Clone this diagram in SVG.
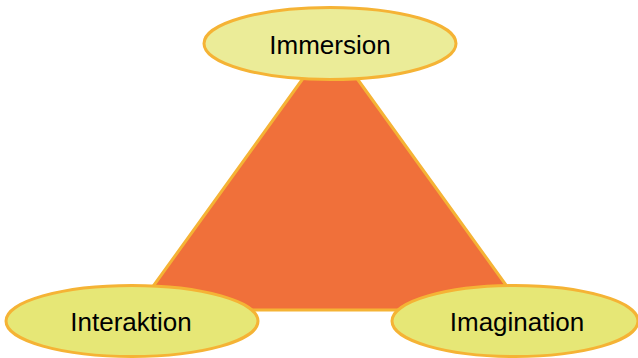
<svg xmlns="http://www.w3.org/2000/svg" width="638" height="358" viewBox="0 0 638 358">
<style>
.node ellipse{stroke:#F5B335;stroke-width:3}
.lbl{font-family:"Liberation Sans",Arial,sans-serif;font-size:26px;fill:#000;text-anchor:middle}
</style>
<rect width="638" height="358" fill="#fff"/>
<g id="connectors">
<polygon points="330,41 524,310 136,310" fill="#F0703A" stroke="#F5B335" stroke-width="3" stroke-linejoin="round"/>
</g>
<g id="immersion" class="node">
<ellipse cx="330" cy="43.5" rx="126" ry="36" fill="#EBEC98"/>
<text class="lbl" x="330" y="54">Immersion</text>
</g>
<g id="interaktion" class="node">
<ellipse cx="132" cy="321" rx="126" ry="35.5" fill="#E6E776"/>
<text class="lbl" x="131" y="331">Interaktion</text>
</g>
<g id="imagination" class="node">
<ellipse cx="515" cy="321" rx="123" ry="35.5" fill="#E6E776"/>
<text class="lbl" x="517" y="331">Imagination</text>
</g>
</svg>
